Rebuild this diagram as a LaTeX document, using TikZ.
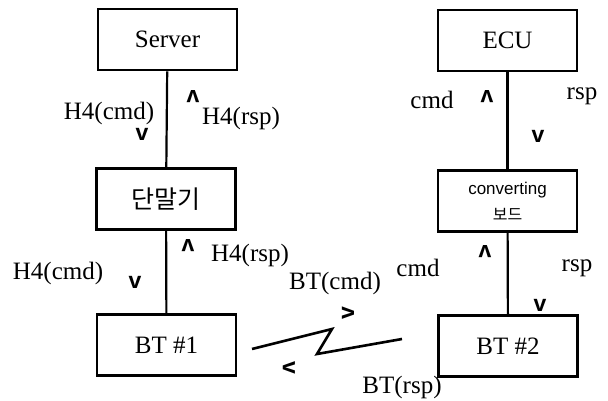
\documentclass[tikz,border=0pt]{standalone}
\usepackage{fontspec}
\setmainfont{Liberation Serif}
\setsansfont{Liberation Sans}
\newfontfamily\kr{Noto Sans CJK KR}
\usepackage{tikz}

\begin{document}
\begin{tikzpicture}[x=0.5pt,y=-0.5pt]
					\tikzstyle{block}=[rectangle,draw=black,line width=1.3pt,minimum width=69.5pt,minimum height=30.5pt,inner sep=1pt,font=\fontsize{12.5}{14}\selectfont]
					\tikzstyle{lbl}=[inner sep=0pt,font=\fontsize{12.5}{14}\selectfont]
					\tikzstyle{chev}=[inner sep=0pt,font=\sffamily\bfseries\fontsize{11.5}{11}\selectfont]
					\tikzstyle{wire}=[line width=1.1pt]
					\useasboundingbox (0,0) rectangle (608,400);
					% boxes
					\node[block] (srv) at (167.5,39.5) {Server};
					\node[block] (term) at (166,199) {\kr 단말기};
					\node[block] (bt1) at (166.5,345) {BT \#1};
					\node[block] (ecu) at (507.5,40.5) {ECU};
					\node[block,align=center] (conv) at (507.5,201) {{\sffamily\fontsize{8.5}{9}\selectfont converting}\\[-1pt]{\kr\fontsize{8}{9}\selectfont 보드}};
					\node[block] (bt2) at (508,346) {BT \#2};
					% links
					\draw[wire] (srv) -- (term);
					\draw[wire] (term) -- (bt1);
					\draw[wire] (ecu) -- (conv);
					\draw[wire] (conv) -- (bt2);
					\coordinate (z1) at (252,349);
					\coordinate (z2) at (332,329);
					\coordinate (z3) at (317,354);
					\coordinate (z4) at (402,339);
					\draw[wire,line width=1.3pt] (z1) -- (z2) -- (z3) -- (z4);
					% labels left
					\node[lbl] (c1) at (109,113) {H4(cmd)};
					\node[chev] (c1a) at (142,134) {v};
					\node[chev,rotate=180] (r1a) at (193,97) {v};
					\node[lbl] (r1) at (241,118) {H4(rsp)};
					\node[chev,rotate=180] (r2a) at (188,246) {v};
					\node[lbl] (r2) at (250,255) {H4(rsp)};
					\node[lbl] (c2) at (58,273) {H4(cmd)};
					\node[chev] (c2a) at (135,282) {v};
					% labels right
					\node[lbl] (c3) at (432,100) {cmd};
					\node[chev,rotate=180] (c3a) at (487,97) {v};
					\node[lbl] (r3) at (582,96) {rsp};
					\node[chev] (r3a) at (538,136) {v};
					\node[chev,rotate=180] (c4a) at (485,252) {v};
					\node[lbl] (c4) at (418,268) {cmd};
					\node[lbl] (r4) at (577,268) {rsp};
					\node[chev] (r4a) at (540,305) {v};
					% wireless
					\node[lbl] (btc) at (335,283) {BT(cmd)};
					\node[chev,rotate=90] (btca) at (348,313) {v};
					\node[chev,rotate=-90] (btra) at (289,368) {v};
					\node[lbl] (btr) at (402,387) {BT(rsp)};
\end{tikzpicture}
\end{document}
